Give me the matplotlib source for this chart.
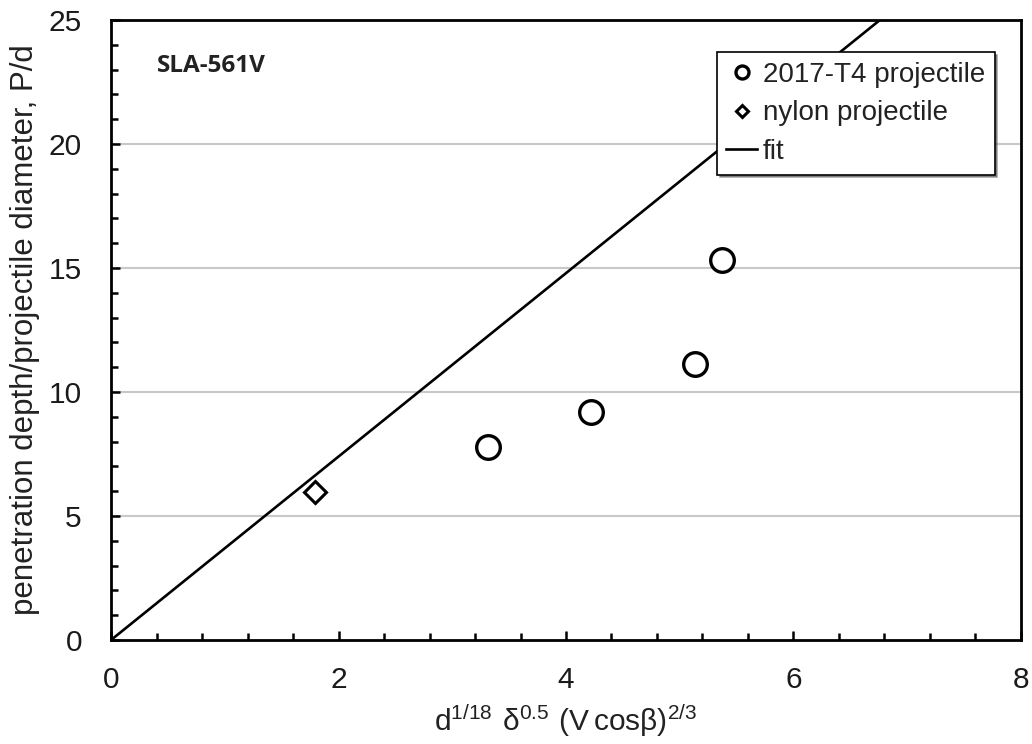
import matplotlib
matplotlib.use("Agg")
import matplotlib.pyplot as plt
from matplotlib.ticker import MultipleLocator

plt.rcParams['font.family'] = ['Liberation Sans', 'DejaVu Sans']

# Data
t4_x = [3.31, 4.22, 5.13, 5.37]
t4_y = [7.8, 9.2, 11.13, 15.33]
nylon_x = [1.79]
nylon_y = [5.97]
fit_x = [0.0, 6.76]
fit_y = [0.0, 25.0]

x_ticks = [0, 2, 4, 6, 8]
y_ticks = [0, 5, 10, 15, 20, 25]

fig = plt.figure(figsize=(10.32, 7.44), dpi=100)
ax = fig.add_axes([0.1076, 0.1398, 0.8817, 0.8333])

for yv in y_ticks[1:-1]:
    ax.axhline(yv, color='#c8c8c8', lw=1.5, zorder=0)

ax.plot(t4_x, t4_y, linestyle='none', marker='o', ms=17, mfc='white',
        mec='black', mew=2.4, label='2017-T4 projectile', zorder=3)
ax.plot(nylon_x, nylon_y, linestyle='none', marker='D', ms=11, mfc='white',
        mec='black', mew=2.2, label='nylon projectile', zorder=3)
ax.plot(fit_x, fit_y, color='black', lw=1.9, label='fit', zorder=2)

ax.set_xlim(0, 8)
ax.set_ylim(0, 25)
ax.set_xticks(x_ticks)
ax.set_yticks(y_ticks)
ax.xaxis.set_minor_locator(MultipleLocator(0.4))
ax.yaxis.set_minor_locator(MultipleLocator(1))
ax.tick_params(axis='both', which='both', direction='in', top=False, right=False,
               width=1.8, colors='black')
ax.tick_params(axis='both', which='major', length=6.5, labelsize=21.5,
               labelcolor='#1a1a1a')
ax.tick_params(axis='y', which='major', pad=21)
ax.tick_params(axis='x', which='major', pad=19)
ax.tick_params(axis='both', which='minor', length=5)
for s in ax.spines.values():
    s.set_linewidth(2.0)

ax.set_xlabel(r'$\mathregular{d^{1/18}\ \delta^{0.5}\ (V\,cos\beta)^{2/3}}$',
              fontsize=21.5, color='#222222', labelpad=6)
ax.set_ylabel('penetration depth/projectile diameter, P/d', fontsize=22.5,
              color='#222222', labelpad=6)

ax.text(0.05, 0.916, 'SLA-561V', transform=ax.transAxes, fontsize=17.5,
        fontweight='bold', family=['Open Sans', 'DejaVu Sans'], color='#222222',
        va='baseline')

leg = ax.legend(loc='upper right', bbox_to_anchor=(0.971, 0.948), fontsize=20,
                frameon=True, fancybox=False, shadow=True, handlelength=1.1,
                handletextpad=0.2, borderpad=0.35, labelspacing=0.45,
                borderaxespad=0.0, markerscale=0.55)
leg.get_frame().set_edgecolor('black')
leg.get_frame().set_linewidth(1.2)
for t in leg.get_texts():
    t.set_color('#222222')

fig.savefig('out.png', dpi=100)
